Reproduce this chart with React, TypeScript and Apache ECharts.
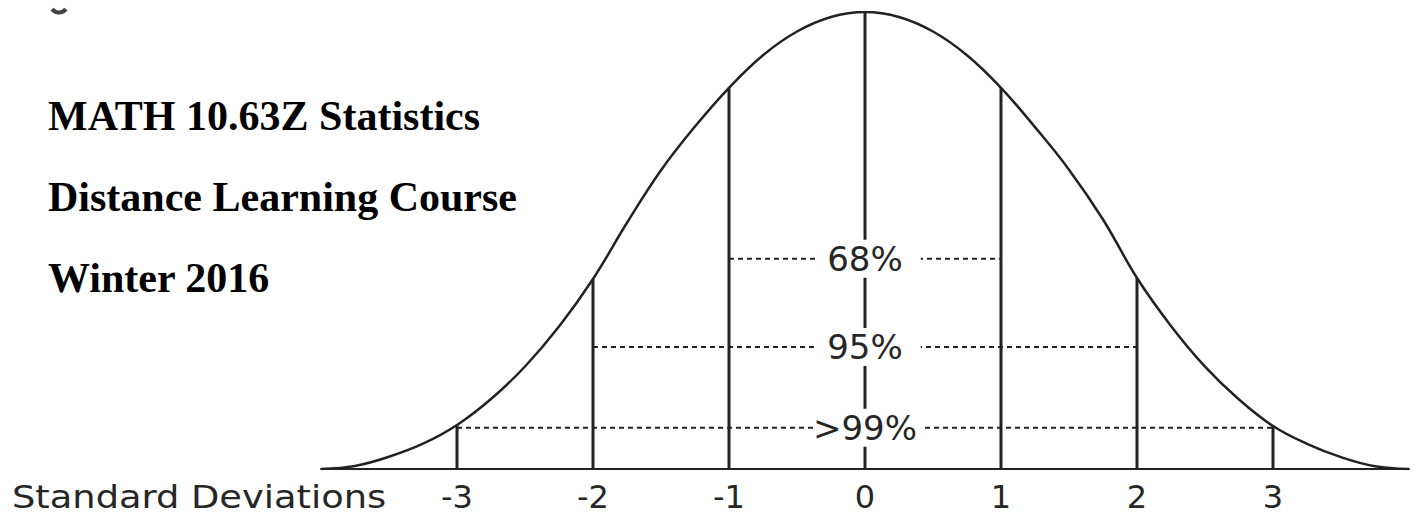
import React, { useEffect, useRef } from "react";
import * as echarts from "echarts";

// Normal-curve outline (x in standard deviations, y = height, peak = 100)
const curveX = [-4, -3.75, -3.5, -3.25, -3, -2.75, -2.5, -2.25, -2, -1.75, -1.5, -1.25, -1, -0.75, -0.5, -0.25, 0, 0.25, 0.5, 0.75, 1, 1.25, 1.5, 1.75, 2, 2.25, 2.5, 2.75, 3, 3.25, 3.5, 3.75, 4];
const curveY = [0, 0.66, 2.68, 5.53, 9.63, 15.32, 22.43, 31.18, 41.58, 53.88, 65.37, 74.95, 83.42, 90.54, 95.73, 98.91, 100, 98.91, 95.73, 90.54, 83.42, 74.8, 65.5, 54.6, 41.8, 31.3, 22.4, 15.2, 9.4, 5.5, 2.6, 0.6, 0];

// Vertical lines at each standard deviation and their heights
const sdTicks = [-3, -2, -1, 0, 1, 2, 3];
const sdTops = [9.63, 41.58, 83.42, 100, 83.42, 41.8, 9.4];

// Dashed coverage bands
const bandHalfWidths = [1, 2, 3];
const bandLevels = [46.0, 26.7, 9.0];
const bandLabels = ["68%", "95%", ">99%"];

const titleLines = ["MATH 10.63Z Statistics", "Distance Learning Course", "Winter 2016"];
const axisTitle = "Standard Deviations";

const INK = "#222222";
const TEXT = "#262626";

export default function App() {
  const ref = useRef<HTMLDivElement>(null);

  useEffect(() => {
    if (!ref.current) return;
    const chart = echarts.init(ref.current, undefined, { renderer: "svg" });

    const verticalSeries = sdTicks.map((sd, i) => ({
      type: "line",
      data: [
        [sd, 0],
        [sd, sdTops[i]],
      ],
      symbol: "none",
      lineStyle: { color: INK, width: 3 },
      z: 2,
      silent: true,
    }));

    const bandSeries = bandHalfWidths.map((k, i) => ({
      type: "line",
      data: [
        [-k, bandLevels[i]],
        [k, bandLevels[i]],
      ],
      symbol: "none",
      lineStyle: { color: INK, width: 2, type: [5, 4] },
      z: 3,
      silent: true,
    }));

    const option = {
      animation: false,
      grid: { left: 321, right: 6, top: 12, bottom: 47 },
      xAxis: {
        type: "value",
        min: -4,
        max: 4,
        interval: 1,
        splitLine: { show: false },
        axisTick: { show: false },
        axisLine: { show: true, lineStyle: { color: INK, width: 2 } },
        axisLabel: {
          show: true,
          margin: 28,
          verticalAlign: "middle",
          fontFamily: "DejaVu Sans",
          fontSize: 32,
          lineHeight: 28,
          color: TEXT,
          formatter: (v: number) => (Math.abs(v) >= 4 ? "" : String(v)),
        },
      },
      yAxis: { type: "value", min: 0, max: 100, show: false },
      series: [
        {
          type: "line",
          data: curveX.map((x, i) => [x, curveY[i]]),
          smooth: 0.4,
          symbol: "none",
          lineStyle: { color: INK, width: 2.5 },
          z: 2,
          silent: true,
        },
        ...verticalSeries,
        ...bandSeries,
        {
          type: "scatter",
          data: bandLevels.map((lv, i) => ({
            value: [0, lv],
            label: {
              padding: bandLabels[i].startsWith(">") ? [6, 6, 6, 0] : [6, 18, 6, 12],
            },
          })),
          symbolSize: 0,
          itemStyle: { color: "#ffffff", opacity: 1 },
          z: 6,
          silent: true,
          label: {
            show: true,
            position: "inside",
            offset: [3, 0],
            formatter: (p: any) => bandLabels[p.dataIndex],
            fontFamily: "DejaVu Sans",
            fontSize: 34,
            lineHeight: 26,
            color: TEXT,
            opacity: 1,
            textBorderWidth: 0,
            backgroundColor: "#ffffff",
            padding: [6, 18, 6, 12],
          },
        },
      ],
      graphic: [
        ...titleLines.map((t, i) => ({
          type: "text",
          x: 48,
          y: 116 + i * 81,
          style: {
            text: t,
            fontFamily: "Liberation Serif",
            fontWeight: "bold",
            fontSize: 42,
            fill: "#000",
            verticalAlign: "middle",
          },
        })),
        {
          type: "text",
          x: 12,
          y: 497,
          scaleX: 1.15,
          style: {
            text: axisTitle,
            fontFamily: "DejaVu Sans",
            fontSize: 32,
            lineHeight: 28,
            fill: TEXT,
            verticalAlign: "middle",
          },
        },
        {
          type: "arc",
          shape: { cx: 59, cy: 4, r: 8.5, startAngle: 0.2 * Math.PI, endAngle: 0.8 * Math.PI },
          style: { stroke: "#444", lineWidth: 4, fill: "none" },
        },
      ],
    };

    chart.setOption(option as any);
    return () => chart.dispose();
  }, []);

  return (
    <div
      ref={ref}
      style={{ position: "fixed", left: 0, top: 0, width: 1415, height: 516, background: "#fff" }}
    />
  );
}
